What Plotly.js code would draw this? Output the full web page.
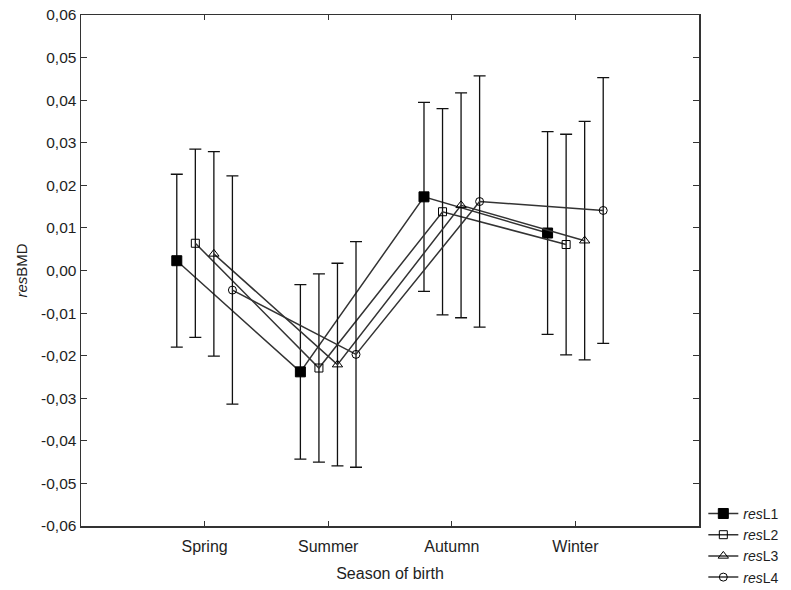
<!DOCTYPE html>
<html>
<head>
<meta charset="utf-8">
<script src="https://cdn.plot.ly/plotly-3.0.1.min.js"></script>
<style>html,body{margin:0;padding:0;background:#fff;}#chart{width:791px;height:590px;}</style>
</head>
<body>
<div id="chart"></div>
<script>
// Data
const seasons = ["Spring", "Summer", "Autumn", "Winter"];
const seriesNames = ["<i>res</i>L1", "<i>res</i>L2", "<i>res</i>L3", "<i>res</i>L4"];
const meanL1 = [0.0023, -0.0238, 0.0173, 0.0088];
const meanL2 = [0.0064, -0.0229, 0.0138, 0.0061];
const meanL3 = [0.0039, -0.0221, 0.0153, 0.0070];
const meanL4 = [-0.0046, -0.0197, 0.0162, 0.0141];
const errL1 = [0.0203, 0.0205, 0.0222, 0.0238];
const errL2 = [0.0221, 0.0221, 0.0242, 0.0259];
const errL3 = [0.0240, 0.0238, 0.0264, 0.0280];
const errL4 = [0.0268, 0.0265, 0.0295, 0.0312];
const yTickVals = [-0.06, -0.05, -0.04, -0.03, -0.02, -0.01, 0, 0.01, 0.02, 0.03, 0.04, 0.05, 0.06];
const yTickText = ["-0,06", "-0,05", "-0,04", "-0,03", "-0,02", "-0,01", "0,00", "0,01", "0,02", "0,03", "0,04", "0,05", "0,06"];

const means = [meanL1, meanL2, meanL3, meanL4];
const errs = [errL1, errL2, errL3, errL4];
const offsets = [-0.225, -0.075, 0.075, 0.225];
const symbols = ["square", "square-open", "triangle-up-open", "circle-open"];
const sizes = [10, 8, 9, 8];

const traces = means.map((m, k) => ({
  type: "scatter",
  mode: "lines+markers",
  name: seriesNames[k],
  x: seasons.map((_, i) => i + offsets[k]),
  y: m,
  line: {color: "#333", width: 1.5},
  marker: {symbol: symbols[k], size: sizes[k], color: "#000", line: {color: "#000", width: 1}},
  error_y: {type: "data", array: errs[k], visible: true, color: "#111", thickness: 1.3, width: 6},
  cliponaxis: false
}));

const font = {family: "Liberation Sans, Arial, sans-serif", color: "#1e1e1e"};

const layout = {
  width: 791, height: 590,
  margin: {l: 81, r: 92, t: 15, b: 64, autoexpand: false},
  paper_bgcolor: "#fff", plot_bgcolor: "#fff",
  font: Object.assign({size: 14}, font),
  showlegend: true,
  legend: {
    x: 1.007, xanchor: "left", y: 0.055, yanchor: "top",
    font: Object.assign({size: 14}, font),
    bgcolor: "rgba(0,0,0,0)", borderwidth: 0,
    tracegroupgap: 0, itemwidth: 30
  },
  xaxis: {
    range: [-1, 4],
    tickmode: "array", tickvals: [0, 1, 2, 3], ticktext: seasons,
    ticks: "inside", ticklen: 5, tickcolor: "#333",
    showline: true, linecolor: "#333", linewidth: 1.5, mirror: "ticks",
    showgrid: false, zeroline: false, automargin: false,
    ticklabelstandoff: 5,
    tickfont: Object.assign({size: 16}, font),
    title: {text: "Season of birth", font: Object.assign({size: 16}, font), standoff: 14}
  },
  yaxis: {
    range: [-0.06, 0.06],
    tickmode: "array", tickvals: yTickVals, ticktext: yTickText,
    ticks: "inside", ticklen: 6, tickcolor: "#333",
    showline: true, linecolor: "#333", linewidth: 1.5, mirror: "ticks",
    showgrid: false, zeroline: false, automargin: false,
    tickfont: Object.assign({size: 15.5}, font),
    title: {text: "<i>res</i>BMD", font: Object.assign({size: 15}, font), standoff: 10}
  }
};

Plotly.newPlot("chart", traces, layout, {displayModeBar: false, staticPlot: true});
</script>
</body>
</html>
